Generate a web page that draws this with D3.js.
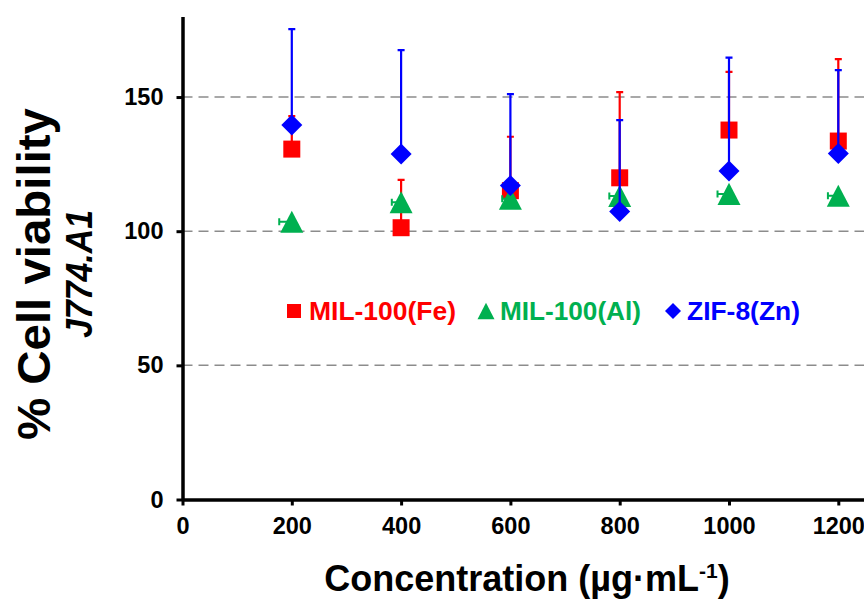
<!DOCTYPE html>
<html>
<head>
<meta charset="utf-8">
<script src="https://cdn.jsdelivr.net/npm/d3@7"></script>
<style>
body { margin: 0; background: #fff; }
text { font-family: "Liberation Sans", Arial, sans-serif; font-weight: bold; }
</style>
</head>
<body>
<div id="chart"></div>
<script>
// concentrations (µg/mL)
var concentrations = [200, 400, 600, 800, 1000, 1200];
// MIL-100(Fe): mean + upper error
var feValues = [130.6, 101.3, 115.1, 119.9, 137.7, 133.6];
var feErrors = [12.3, 17.8, 20.1, 31.9, 21.7, 30.5];
// MIL-100(Al): mean + (horizontal) error
var alValues = [103.5, 110.8, 112.1, 113.1, 113.9, 113.2];
var alErrors = [23, 17, 15, 19, 21, 19];
// ZIF-8(Zn): mean + upper error
var znValues = [139.6, 128.8, 117, 107.3, 122.4, 129];
var znErrors = [35.7, 38.7, 34.1, 34.1, 42.3, 31];

var xTicks = [0, 200, 400, 600, 800, 1000, 1200];
var yTicks = [0, 50, 100, 150];
var gridTicks = [50, 100, 150];
var seriesNames = ["MIL-100(Fe)", "MIL-100(Al)", "ZIF-8(Zn)"];
var seriesColors = ["#ff0000", "#00b050", "#0000ff"];
var seriesShapes = ["square", "triangle", "diamond"];

//svg size
var svgWidth = 864;
var svgHeight = 599;

var svg = d3.select("#chart")
  .append("svg")
  .attr("width", svgWidth)
  .attr("height", svgHeight);

// scales
var xScale = d3.scaleLinear()
  .domain([0, 1250])
  .range([182.5, 182.5 + 1250 * 0.5465]);
var yScale = d3.scaleLinear()
  .domain([0, 180])
  .range([499.5, 499.5 - 180 * 2.683]);

// marker shapes, centred on 0,0
function shapePath(shape, s) {
  if (shape == "square") return `M${-s/2},${-s/2}h${s}v${s}h${-s}Z`;
  if (shape == "triangle") return `M0,${-s*0.48}L${s/2},${s*0.48}L${-s/2},${s*0.48}Z`;
  return `M0,${-s/2}L${s/2},0L0,${s/2}L${-s/2},0Z`;
}

// gridlines
svg.append("g").selectAll("line")
  .data(gridTicks)
  .enter()
  .append("line")
  .attr("x1", xScale(0))
  .attr("x2", svgWidth)
  .attr("y1", d => yScale(d))
  .attr("y2", d => yScale(d))
  .attr("stroke", "#8c8c8c")
  .attr("stroke-width", 1.5)
  .attr("stroke-dasharray", "10,6");

// axes
var bottomAxis = d3.axisBottom(xScale).tickValues(xTicks).tickFormat(d3.format("d"))
  .tickSize(6).tickSizeOuter(0).tickPadding(12);
var leftAxis = d3.axisLeft(yScale).tickValues(yTicks).tickFormat(d3.format("d"))
  .tickSize(6).tickSizeOuter(0).tickPadding(13);

var xAxisG = svg.append("g")
  .attr("transform", `translate(0, ${yScale(0)})`)
  .call(bottomAxis);
var yAxisG = svg.append("g")
  .attr("transform", `translate(${xScale(0)}, 0)`)
  .call(leftAxis);

[xAxisG, yAxisG].forEach(function (g) {
  g.attr("font-family", null).attr("font-size", null);
  g.select(".domain").attr("stroke", "#000").attr("stroke-width", 3.5);
  g.selectAll(".tick line").attr("stroke", "#000").attr("stroke-width", 3);
  g.selectAll(".tick text").attr("fill", "#000").style("font-size", "23.5px");
});

// build series table
var series = seriesNames.map(function (name, i) {
  var vals = [feValues, alValues, znValues][i];
  var errs = [feErrors, alErrors, znErrors][i];
  return {
    name: name, color: seriesColors[i], shape: seriesShapes[i],
    points: concentrations.map((c, j) => ({x: c, y: vals[j], err: errs[j]}))
  };
});
var markerSize = {square: 17, triangle: 23, diamond: 21};

series.forEach(function (s) {
  var g = svg.append("g");
  if (s.shape == "triangle") {
    // small horizontal error bars on the left
    g.selectAll(".eb").data(s.points).enter().append("path")
      .attr("d", d => `M${xScale(d.x)},${yScale(d.y)}H${xScale(d.x - d.err)}M${xScale(d.x - d.err)},${yScale(d.y) - 3.5}V${yScale(d.y) + 3.5}`)
      .attr("stroke", s.color).attr("stroke-width", 2).attr("fill", "none");
  } else {
    // upper error bars
    g.selectAll(".eb").data(s.points).enter().append("path")
      .attr("d", d => `M${xScale(d.x)},${yScale(d.y)}V${yScale(d.y + d.err)}M${xScale(d.x) - 3.5},${yScale(d.y + d.err)}H${xScale(d.x) + 3.5}`)
      .attr("stroke", s.color).attr("stroke-width", 2.2).attr("fill", "none");
  }
  g.selectAll(".mk").data(s.points).enter().append("path")
    .attr("transform", d => `translate(${xScale(d.x)},${yScale(d.y)})`)
    .attr("d", shapePath(s.shape, markerSize[s.shape]))
    .attr("fill", s.color);
});

// legend
var legendX = [294, 486, 673];
var legendText = [309, 500, 687];
var legendSize = {square: 14, triangle: 17, diamond: 16};
var legendLen = [147, 141, 113];
series.forEach(function (s, i) {
  svg.append("path")
    .attr("transform", `translate(${legendX[i]}, 311)`)
    .attr("d", shapePath(s.shape, legendSize[s.shape]))
    .attr("fill", s.color);
  svg.append("text")
    .attr("x", legendText[i])
    .attr("y", 320)
    .attr("fill", s.color)
    .style("font-size", "25px")
    .attr("textLength", legendLen[i])
    .attr("lengthAdjust", "spacingAndGlyphs")
    .text(s.name);
});

// axis titles
var xTitle = svg.append("text")
  .attr("x", 527)
  .attr("y", 591)
  .attr("text-anchor", "middle")
  .style("font-size", "36px");
xTitle.append("tspan").text("Concentration (µg·mL");
xTitle.append("tspan").attr("dy", -13).style("font-size", "21px").text("-1");
xTitle.append("tspan").attr("dy", 13).text(")");

svg.append("text")
  .attr("transform", "translate(50, 274) rotate(-90)")
  .attr("text-anchor", "middle")
  .style("font-size", "47px")
  .attr("textLength", 332)
  .attr("lengthAdjust", "spacingAndGlyphs")
  .text("% Cell viability");

svg.append("text")
  .attr("transform", "translate(92, 274) rotate(-90)")
  .attr("text-anchor", "middle")
  .style("font-size", "36px")
  .style("font-style", "italic")
  .attr("textLength", 128)
  .attr("lengthAdjust", "spacingAndGlyphs")
  .text("J774.A1");
</script>
</body>
</html>
